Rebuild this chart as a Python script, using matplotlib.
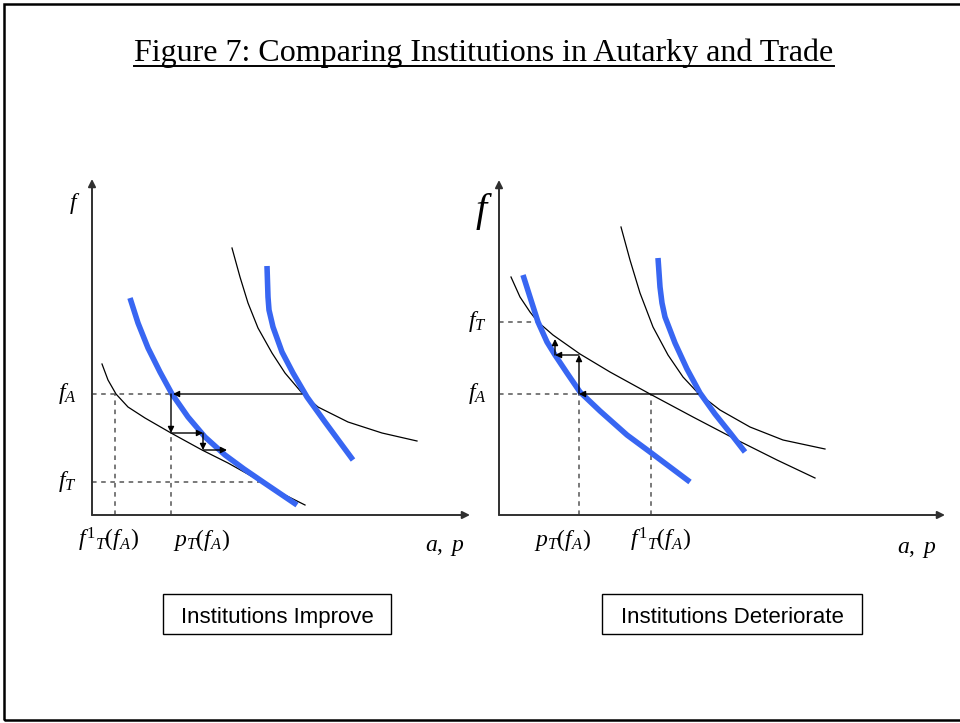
import matplotlib
matplotlib.use("Agg")
import matplotlib.pyplot as plt
from matplotlib.patches import Rectangle
from matplotlib.lines import Line2D

plt.rcParams['mathtext.fontset'] = 'custom'
plt.rcParams['mathtext.it'] = 'Liberation Serif:italic'
plt.rcParams['mathtext.rm'] = 'Liberation Serif'
plt.rcParams['mathtext.default'] = 'it'

# ---------------- data (panel units: a to the right, f upward) ----------------
title = "Figure 7: Comparing Institutions in Autarky and Trade"
panel_names = ["Institutions Improve", "Institutions Deteriorate"]

# Left panel: institutions improve
L_thin_low_a = [10, 16, 24, 36, 53, 79, 110, 136, 170, 193, 213]
L_thin_low_f = [151, 135, 121, 108, 97, 82, 65, 52, 33, 20, 10]
L_blue_low_a = [38, 46, 56, 68, 80, 96, 113, 133, 152, 171, 205]
L_blue_low_f = [217, 192, 167, 143, 121, 98, 78, 60, 46, 33, 10]
L_thin_up_a = [140, 148, 156, 166, 180, 193, 210, 226, 256, 290, 325]
L_thin_up_f = [267, 238, 212, 187, 162, 142, 122, 108, 93, 82, 74]
L_blue_up_a = [175, 176, 177, 181, 190, 201, 215, 233, 261]
L_blue_up_f = [249, 218, 205, 188, 163, 142, 118, 93, 55]
L_fA, L_fT = 121, 33
L_finv, L_pT = 23, 79
L_cross_a = 210
L_stair_a = [79, 79, 111, 111, 135]
L_stair_f = [121, 82, 82, 65, 65]

# Right panel: institutions deteriorate
R_thin_low_a = [12, 21, 31, 39, 54, 81, 111, 151, 194, 238, 278, 316]
R_thin_low_f = [238, 218, 203, 193, 180, 161, 143, 121, 98, 75, 55, 37]
R_blue_low_a = [24, 31, 39, 48, 56, 68, 81, 101, 128, 151, 191]
R_blue_low_f = [240, 218, 193, 173, 160, 142, 123, 104, 80, 63, 33]
R_thin_up_a = [122, 131, 141, 154, 169, 184, 199, 221, 251, 284, 326]
R_thin_up_f = [288, 255, 222, 188, 160, 138, 122, 105, 88, 75, 66]
R_blue_up_a = [159, 161, 163, 166, 176, 188, 201, 216, 232, 246]
R_blue_up_f = [257, 228, 212, 198, 172, 146, 122, 101, 81, 63]
R_fA, R_fT = 121, 193
R_pT, R_finv = 80, 152
R_cross_a = 199
R_stair_a = [80, 80, 56, 56]
R_stair_f = [121, 160, 160, 176]

BLUE = '#3866f2'
DASH = '#555555'

W, H = 960, 723
fig = plt.figure(figsize=(W / 100, H / 100), dpi=100)


def fx(px):
    return px / W


def fy(py):
    return 1 - py / H


def panel(ox, oy, w, h):
    ax = fig.add_axes([fx(ox), fy(oy), w / W, h / H])
    ax.set_xlim(0, w)
    ax.set_ylim(0, h)
    ax.axis('off')
    ap = dict(arrowstyle='-|>', mutation_scale=11, lw=1.4, color='#303030',
              shrinkA=0, shrinkB=0)
    ax.annotate('', xy=(0, h), xytext=(0, 0), arrowprops=ap, annotation_clip=False)
    ax.annotate('', xy=(w, 0), xytext=(0, 0), arrowprops=ap, annotation_clip=False)
    return ax


def arrow(ax, x0, y0, x1, y1):
    ax.annotate('', xy=(x1, y1), xytext=(x0, y0),
                arrowprops=dict(arrowstyle='-|>', mutation_scale=9, lw=1.0,
                                color='black', shrinkA=0, shrinkB=0),
                annotation_clip=False)


def dashed(ax, xs, ys):
    ax.plot(xs, ys, color=DASH, lw=1.1, ls=(0, (3, 3)), clip_on=False)


lab = dict(fontsize=17, color='black')

# ---------------- left panel ----------------
axL = panel(92, 515, 378, 336)
dashed(axL, [0, L_pT], [L_fA, L_fA])
dashed(axL, [L_finv, L_finv], [0, L_fA])
dashed(axL, [L_pT, L_pT], [0, L_stair_f[1]])
dashed(axL, [0, L_thin_low_a[8]], [L_fT, L_fT])
axL.plot(L_thin_low_a, L_thin_low_f, color='black', lw=0.9)
axL.plot(L_thin_up_a, L_thin_up_f, color='black', lw=0.9)
axL.plot(L_blue_low_a, L_blue_low_f, color=BLUE, lw=4, solid_capstyle='butt')
axL.plot(L_blue_up_a, L_blue_up_f, color=BLUE, lw=4, solid_capstyle='butt')
arrow(axL, L_cross_a, L_fA, L_pT + 2, L_fA)
for i in range(len(L_stair_a) - 1):
    arrow(axL, L_stair_a[i], L_stair_f[i], L_stair_a[i + 1], L_stair_f[i + 1])
axL.text(-17, 311, r'$f$', ha='center', va='center', fontsize=17)
axL.text(-15, L_fA, r'$f_A$', ha='right', va='center', **lab)
axL.text(-15, L_fT, r'$f_T$', ha='right', va='center', **lab)
axL.text(16, -25, r'$f^{1}{}_{T}(f_{A})$', ha='center', va='center', **lab)
axL.text(109, -25, r'$p_{T}(f_{A})$', ha='center', va='center', **lab)
axL.text(353, -31, r'$a,\ p$', ha='center', va='center', **lab)

# ---------------- right panel ----------------
axR = panel(499, 515, 446, 335)
dashed(axR, [0, R_pT], [R_fA, R_fA])
dashed(axR, [0, R_thin_low_a[3]], [R_fT, R_fT])
dashed(axR, [R_pT, R_pT], [0, R_fA])
dashed(axR, [R_finv, R_finv], [0, R_fA])
axR.plot(R_thin_low_a, R_thin_low_f, color='black', lw=0.9)
axR.plot(R_thin_up_a, R_thin_up_f, color='black', lw=0.9)
axR.plot(R_blue_low_a, R_blue_low_f, color=BLUE, lw=4, solid_capstyle='butt')
axR.plot(R_blue_up_a, R_blue_up_f, color=BLUE, lw=4, solid_capstyle='butt')
arrow(axR, R_cross_a, R_fA, R_pT, R_fA)
for i in range(len(R_stair_a) - 1):
    arrow(axR, R_stair_a[i], R_stair_f[i], R_stair_a[i + 1], R_stair_f[i + 1])
axR.text(-15, 304, r'$f$', ha='center', va='center', fontsize=29)
axR.text(-12, R_fT, r'$f_T$', ha='right', va='center', **lab)
axR.text(-12, R_fA, r'$f_A$', ha='right', va='center', **lab)
axR.text(63, -25, r'$p_{T}(f_{A})$', ha='center', va='center', **lab)
axR.text(161, -25, r'$f^{1}{}_{T}(f_{A})$', ha='center', va='center', **lab)
axR.text(418, -33, r'$a,\ p$', ha='center', va='center', **lab)

# ---------------- title, boxes, frame ----------------
t = fig.text(fx(484), fy(61), title, ha='center', va='baseline',
             fontsize=23, family='Liberation Serif')

for (x0, x1), name in zip([(163, 391), (602, 862)], panel_names):
    fig.patches.append(Rectangle((fx(x0), fy(634)), fx(x1) - fx(x0), fy(594) - fy(634),
                                 transform=fig.transFigure, fc='white', ec='black', lw=1.0))
    fig.text(fx((x0 + x1) / 2), fy(623), name, ha='center', va='baseline',
             fontsize=16, family='Liberation Sans')

fig.patches.append(Rectangle((fx(4), fy(720)), fx(960) - fx(4) + 0.01, fy(4) - fy(720),
                             transform=fig.transFigure, fill=False, ec='black', lw=1.8))

fig.canvas.draw()
bb = t.get_window_extent(fig.canvas.get_renderer()).transformed(fig.transFigure.inverted())
fig.lines.append(Line2D([bb.x0, bb.x1], [fy(66), fy(66)], transform=fig.transFigure,
                        color='black', lw=1.4))

fig.savefig('out.png', dpi=100)
